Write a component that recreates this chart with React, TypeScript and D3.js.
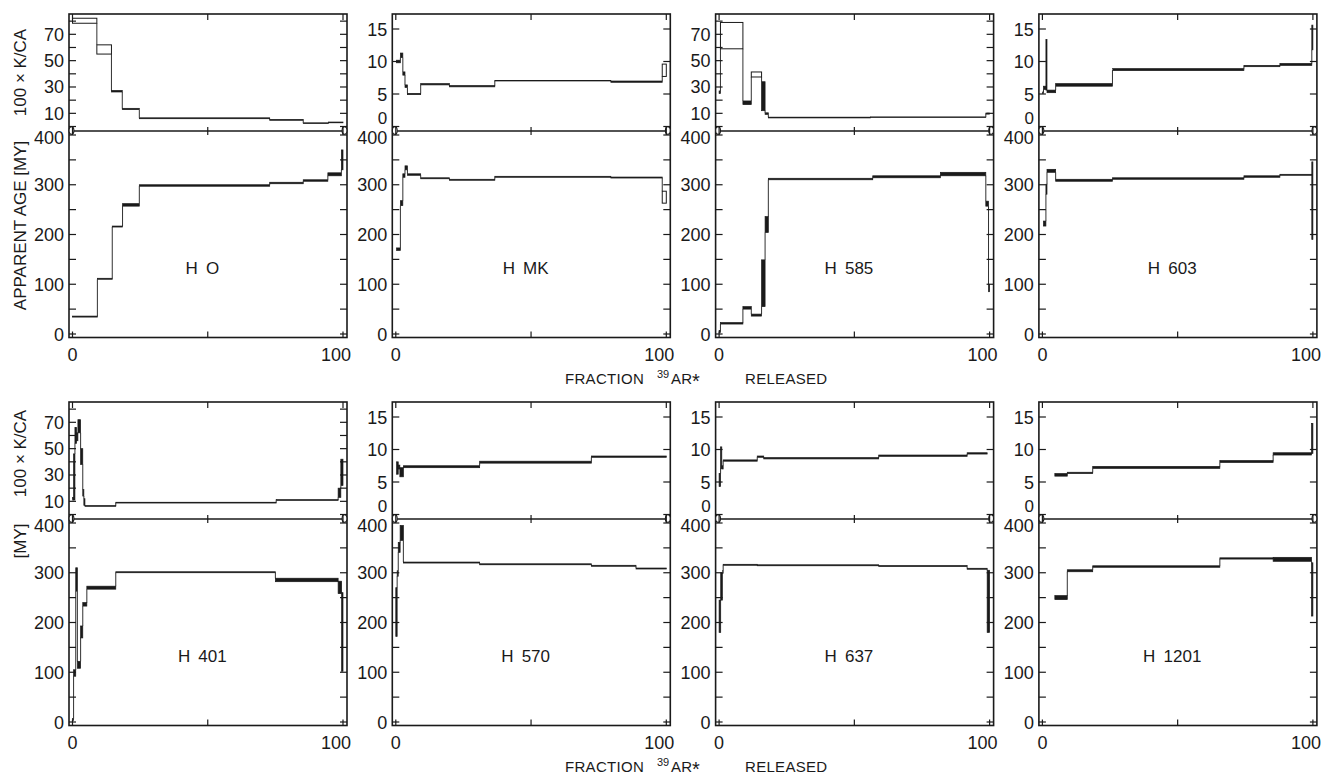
import React, { useEffect, useRef } from 'react';
import * as d3 from 'd3';

// one heating step: [fraction from, fraction to, value low, value high]
type Step = [number, number, number, number];

const hoKca: Step[] = [
  [0, 9, 78.4, 82.2], [9, 14.4, 55, 62], [14.4, 18.4, 26.2, 27.4], [18.4, 24.7, 12.8, 13.8],
  [24.7, 72.9, 5.9, 6.6], [72.9, 85.3, 4.7, 5.4], [85.3, 94.6, 2.2, 2.8], [94.6, 100, 2.8, 3.4],
];
const hoAge: Step[] = [
  [0, 9.2, 34, 36], [9.2, 14.7, 110, 112], [14.7, 18.5, 215, 217], [18.5, 24.7, 257, 262],
  [24.7, 72.9, 297, 300], [72.9, 85.3, 302, 305], [85.3, 94.4, 307, 310], [94.4, 99.4, 318, 324],
  [99.4, 100, 330, 370],
];

const hmkKca: Step[] = [
  [0.3, 1.7, 9.8, 10.2], [1.7, 2.6, 10.6, 11.3], [2.6, 3.4, 7.9, 8.4], [3.4, 4.3, 6.0, 6.4],
  [4.3, 9.2, 4.9, 5.1], [9.2, 19.8, 6.4, 6.6], [19.8, 36.6, 6.1, 6.3], [36.6, 79.5, 7.0, 7.1],
  [79.5, 98.5, 6.8, 7.0], [98.5, 100, 7.7, 9.6],
];
const hmkAge: Step[] = [
  [0.3, 1.7, 168, 173], [1.7, 2.6, 258, 268], [2.6, 3.4, 315, 322], [3.4, 4.3, 330, 338],
  [4.3, 9.2, 319, 322], [9.2, 19.8, 312, 314], [19.8, 36.6, 309, 311], [36.6, 79.5, 315, 317],
  [79.5, 98.5, 313.5, 315.5], [98.5, 100, 263, 287],
];

const h585Kca: Step[] = [
  [0, 0.5, 25, 27], [0.5, 8.8, 59, 79], [8.8, 11.9, 16.6, 19.4], [11.9, 15.7, 37.6, 41.4],
  [15.7, 17.0, 12, 34], [17.0, 18.2, 9.2, 10.4], [18.2, 56, 6.5, 7.1], [56, 98.6, 6.8, 7.3],
  [98.6, 100, 9.4, 10.2],
];
const h585Age: Step[] = [
  [0, 0.5, 3, 7], [0.5, 8.8, 20, 23], [8.8, 11.9, 50, 55], [11.9, 15.7, 36, 40],
  [15.7, 17.0, 55, 149], [17.0, 18.2, 204, 236], [18.2, 56.8, 310, 313], [56.8, 81.8, 314, 318],
  [81.8, 98.6, 318, 325], [98.6, 99.6, 257, 267], [99.6, 100, 85, 100],
];

const h603Kca: Step[] = [
  [0, 0.4, 5.1, 5.3], [0.4, 1.3, 5.7, 6.2], [1.3, 1.7, 5.6, 13.4], [1.7, 4.9, 5.2, 5.6],
  [4.9, 25.9, 6.2, 6.6], [25.9, 74.5, 8.6, 8.9], [74.5, 87.8, 9.2, 9.4], [87.8, 99.6, 9.4, 9.7],
  [99.6, 100, 11.8, 15.6],
];
const h603Age: Step[] = [
  [0.4, 1.3, 217, 227], [1.3, 1.7, 281, 301], [1.7, 4.9, 325, 331], [4.9, 25.9, 307, 311],
  [25.9, 74.5, 311, 314], [74.5, 87.8, 315, 318], [87.8, 99.6, 319, 321], [99.6, 100, 190, 346],
];

const h401Kca: Step[] = [
  [0, 0.4, 11, 13], [0.4, 0.9, 11, 46], [0.9, 1.5, 54, 66], [1.5, 2.0, 56, 62],
  [2.0, 3.0, 62, 72], [3.0, 3.8, 38, 50], [3.8, 4.2, 14, 19], [4.2, 4.6, 7, 12],
  [4.6, 16.0, 6.2, 6.8], [16.0, 75.3, 8.7, 9.3], [75.3, 98.2, 10.7, 11.3], [98.2, 99.2, 13, 20],
  [99.2, 100, 22, 42],
];
const h401Age: Step[] = [
  [0, 0.4, 3, 7], [0.4, 1.2, 92, 105], [1.2, 1.8, 263, 310], [1.8, 3.0, 108, 122],
  [3.0, 3.8, 169, 193], [3.8, 5.3, 233, 240], [5.3, 16.0, 267, 273], [16.0, 75.0, 300, 302],
  [75.0, 98.2, 282, 289], [98.2, 99.5, 258, 283], [99.5, 100, 102, 260],
];

const h570Kca: Step[] = [
  [0.3, 0.9, 6.2, 8.1], [0.9, 1.5, 7.0, 7.6], [1.5, 2.8, 5.8, 7.2], [2.8, 31.0, 7.2, 7.5],
  [31.0, 72.3, 7.9, 8.2], [72.3, 100, 8.8, 9.0],
];
const h570Age: Step[] = [
  [0, 0.5, 172, 270], [0.5, 0.9, 293, 304], [0.9, 1.6, 341, 361], [1.6, 2.8, 365, 395],
  [2.8, 31.0, 319.5, 321.5], [31.0, 72.3, 316, 318], [72.3, 88.8, 313, 315], [88.8, 100, 307.5, 309.5],
];

const h637Kca: Step[] = [
  [0, 0.55, 4.3, 6.3], [0.55, 1.0, 7.1, 10.4], [1.0, 1.5, 7.0, 7.5], [1.5, 14.1, 8.2, 8.4],
  [14.1, 16.5, 8.8, 9.0], [16.5, 59.0, 8.55, 8.75], [59.0, 91.7, 8.95, 9.15], [91.7, 99.1, 9.3, 9.5],
];
const h637Age: Step[] = [
  [0, 0.6, 180, 245], [0.6, 1.2, 245, 300], [1.2, 1.5, 299, 304], [1.5, 14.1, 315, 317],
  [14.1, 59, 314, 316], [59, 91.7, 312.5, 314.5], [91.7, 99.1, 307, 309], [99.1, 100, 180, 305],
];

const h1201Kca: Step[] = [
  [4.6, 9.2, 5.9, 6.3], [9.2, 18.6, 6.3, 6.5], [18.6, 65.6, 7.1, 7.4], [65.6, 85.3, 8.0, 8.3],
  [85.3, 99.5, 9.15, 9.5], [99.5, 100, 9.4, 14.0],
];
const h1201Age: Step[] = [
  [4.6, 9.2, 246, 254], [9.2, 18.6, 302, 306], [18.6, 65.6, 311, 314], [65.6, 85.3, 327.5, 330],
  [85.3, 99.5, 323, 331], [99.5, 100, 213, 320],
];

const SAMPLE_NAMES = ['H O', 'H MK', 'H 585', 'H 603', 'H 401', 'H 570', 'H 637', 'H 1201'];
const KCA_SERIES = [hoKca, hmkKca, h585Kca, h603Kca, h401Kca, h570Kca, h637Kca, h1201Kca];
const AGE_SERIES = [hoAge, hmkAge, h585Age, h603Age, h401Age, h570Age, h637Age, h1201Age];
// which K/Ca range each panel uses
const KCA_RANGE = [70, 15, 70, 15, 70, 15, 15, 15];

const KCA_WIDE_LABELS = [10, 30, 50, 70];
const KCA_NARROW_LABELS = [0, 5, 10, 15];
const AGE_LABELS = [0, 100, 200, 300, 400];
const X_TICKS = [0, 50, 100];
const X_LABELS = [0, 100];

const FONT = '"Liberation Sans", Arial, Helvetica, sans-serif';
const INK = '#1a1a1a';

export default function App() {
  const svgRef = useRef<SVGSVGElement | null>(null);

  useEffect(() => {
    const svg = d3.select(svgRef.current);
    const width = 1323;
    const height = 779;
    svg.attr('width', width).attr('height', height);
    svg.selectAll('*').remove();

    svg.append('rect').attr('width', width).attr('height', height).attr('fill', '#fff');

    const panelW = 278;
    const panelH = 323.5;
    const split = 117;
    const rowTop = [14, 402];

    const drawSteps = (g: any, steps: Step[], x: any, y: any) => {
      // vertical joins between neighbouring steps (edge to edge)
      for (let i = 0; i < steps.length - 1; i++) {
        const a = steps[i];
        const b = steps[i + 1];
        let from: number | null = null;
        let to: number | null = null;
        if (a[3] < b[2]) { from = a[3]; to = b[2]; }
        else if (b[3] < a[2]) { from = b[3]; to = a[2]; }
        if (from !== null && to !== null) {
          g.append('line')
            .attr('x1', x(a[1])).attr('x2', x(a[1]))
            .attr('y1', y(from)).attr('y2', y(to))
            .attr('stroke', INK)
            .attr('stroke-width', 0.9);
        }
      }

      steps.forEach(s => {
        const x0 = x(s[0]);
        const w = x(s[1]) - x0;
        const yTop = y(s[3]);
        const h = y(s[2]) - yTop;
        const solid = w < 4 || h < 4.5;
        g.append('rect')
          .attr('x', x0)
          .attr('y', yTop)
          .attr('width', Math.max(w, 0.5))
          .attr('height', Math.max(h, 0.3))
          .attr('fill', solid ? INK : 'none')
          .attr('stroke', INK)
          .attr('stroke-width', solid ? 0.7 : 1);
      });
    };

    SAMPLE_NAMES.forEach((name, i) => {
      const col = i % 4;
      const row = Math.floor(i / 4);
      const left = 69 + col * 323.3;
      const right = left + panelW;
      const top = rowTop[row];
      const mid = top + split;
      const bottom = top + panelH;

      const x = d3.scaleLinear().domain([0, 100]).range([left + 3.5, left + 274]);
      const yAge = d3.scaleLinear().domain([0, 400]).range([top + 320, top + 121]);
      const wide = KCA_RANGE[i] === 70;
      const yK = wide
        ? d3.scaleLinear().domain([0, 70]).range([top + 112.5, top + 112.5 - 70 * 1.317])
        : d3.scaleLinear().domain([0, 15]).range([top + 112.5, top + 15]);

      const g = svg.append('g');

      // data
      drawSteps(g, KCA_SERIES[i], x, yK);
      drawSteps(g, AGE_SERIES[i], x, yAge);

      // frame
      g.append('rect')
        .attr('x', left).attr('y', top)
        .attr('width', panelW).attr('height', panelH)
        .attr('fill', 'none').attr('stroke', INK).attr('stroke-width', 1.6);
      g.append('line')
        .attr('x1', left).attr('x2', right).attr('y1', mid).attr('y2', mid)
        .attr('stroke', INK).attr('stroke-width', 1.6);
      [left + 2.5, right - 2.5].forEach(cx => {
        g.append('ellipse')
          .attr('cx', cx).attr('cy', mid - 0.5).attr('rx', 2.4).attr('ry', 3.8)
          .attr('fill', '#fff').attr('stroke', INK).attr('stroke-width', 1.1);
      });

      const tick = (x1: number, y1: number, x2: number, y2: number) => {
        g.append('line')
          .attr('x1', x1).attr('y1', y1).attr('x2', x2).attr('y2', y2)
          .attr('stroke', INK).attr('stroke-width', 1.2);
      };

      // y ticks on both sides
      const kTicks = wide ? d3.range(0, 81, 10) : KCA_NARROW_LABELS;
      kTicks.forEach(v => {
        tick(left, yK(v), left + 7, yK(v));
        tick(right - 7, yK(v), right, yK(v));
      });
      d3.range(0, 401, 50).forEach(v => {
        tick(left, yAge(v), left + 7, yAge(v));
        tick(right - 7, yAge(v), right, yAge(v));
      });
      // x ticks at top, split and bottom
      X_TICKS.forEach(v => {
        tick(x(v), top, x(v), top + 6);
        tick(x(v), mid - 4, x(v), mid + 4);
        tick(x(v), bottom - 6, x(v), bottom);
      });

      const label = (tx: number, ty: number, text: string, anchor: string, size = 18) => {
        g.append('text')
          .attr('x', tx).attr('y', ty)
          .attr('text-anchor', anchor)
          .attr('font-family', FONT)
          .attr('font-size', size)
          .attr('fill', INK)
          .text(text);
      };

      (wide ? KCA_WIDE_LABELS : KCA_NARROW_LABELS).forEach(v => {
        if (v === 0) label(left - 5, yK(v) - 3, String(v), 'end', 17);
        else label(left - 5, yK(v) + 6.5, String(v), 'end');
      });
      AGE_LABELS.forEach(v => {
        const shift = v === 400 ? 2.5 : 0;
        label(left - 5, yAge(v) + 6.5 + shift, String(v), 'end');
      });
      X_LABELS.forEach(v => {
        label(v === 0 ? x(v) : x(v) - 7, bottom + 23, String(v), 'middle');
      });

      // sample name
      g.append('text')
        .attr('x', x(48))
        .attr('y', top + 260)
        .attr('text-anchor', 'middle')
        .attr('font-family', FONT)
        .attr('font-size', 17)
        .attr('fill', INK)
        .text(name.replace(' ', '\u2009 '));
    });

    // axis titles on the left
    const vTitle = (cy: number, text: string) => {
      svg.append('text')
        .attr('transform', `translate(26,${cy}) rotate(-90)`)
        .attr('text-anchor', 'middle')
        .attr('font-family', FONT)
        .attr('font-size', 17)
        .attr('fill', INK)
        .text(text);
    };
    vTitle(72.5, '100 \u00d7 K/CA');
    vTitle(225.5, 'APPARENT AGE [MY]');
    vTitle(453.5, '100 \u00d7 K/CA');
    vTitle(541, '[MY]');

    // x titles
    [383.5, 772].forEach(by => {
      const t = svg.append('text')
        .attr('y', by)
        .attr('font-family', FONT)
        .attr('font-size', 15)
        .attr('letter-spacing', 0.3)
        .attr('fill', INK);
      t.append('tspan').attr('x', 565).text('FRACTION');
      t.append('tspan').attr('x', 657).attr('y', by - 6).attr('font-size', 11).attr('letter-spacing', 0).text('39');
      t.append('tspan').attr('x', 671).attr('y', by).text('AR');
      t.append('tspan').attr('x', 692).attr('y', by + 4).attr('font-size', 20).text('*');
      t.append('tspan').attr('x', 745).attr('y', by).text('RELEASED');
    });
  }, []);

  return (
    <div style={{ position: 'absolute', left: 0, top: 0 }}>
      <svg ref={svgRef} style={{ display: 'block' }} />
    </div>
  );
}
